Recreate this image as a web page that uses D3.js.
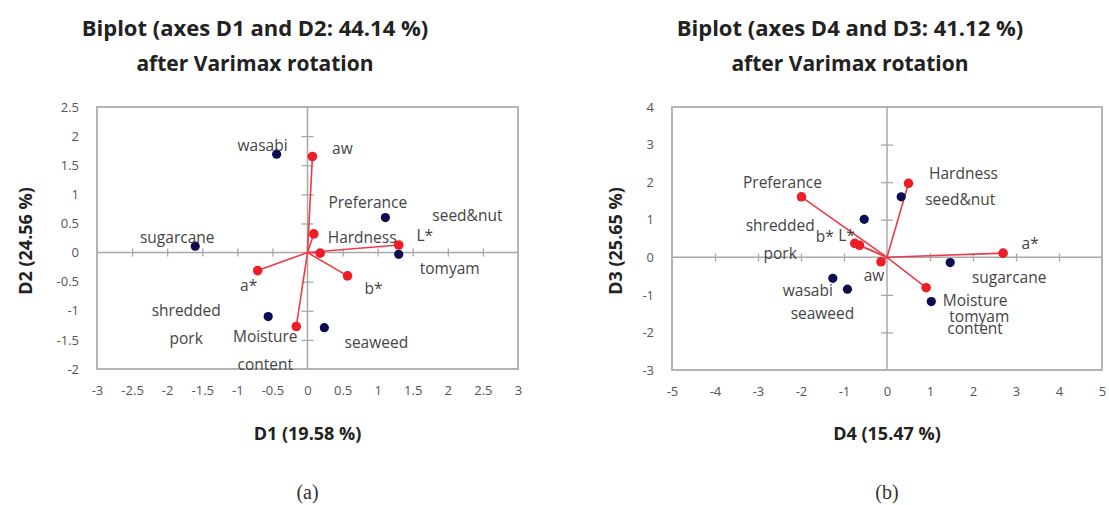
<!DOCTYPE html>
<html>
<head>
<meta charset="utf-8">
<script src="https://cdn.jsdelivr.net/npm/d3@7"></script>
<style>
  body { margin: 0; background: #fff; }
  svg { display: block; }
  text { font-family: "Open Sans", "DejaVu Sans", sans-serif; }
</style>
</head>
<body>
<script>
const obsNames = ['wasabi', 'sugarcane', 'seed&nut', 'tomyam', 'shredded pork', 'seaweed'];
const obsD1 = [-0.44, -1.60, 1.11, 1.30, -0.56, 0.24];
const obsD2 = [1.69, 0.11, 0.60, -0.03, -1.10, -1.29];
const obsD4 = [-1.26, 1.47, 0.33, 1.03, -0.53, -0.92];
const obsD3 = [-0.56, -0.14, 1.61, -1.18, 1.01, -0.85];

const varNames = ['aw', 'Preferance', 'Hardness', 'L*', 'b*', 'a*', 'Moisture content'];
const varD1 = [0.07, 0.09, 0.18, 1.30, 0.57, -0.71, -0.16];
const varD2 = [1.65, 0.32, -0.01, 0.13, -0.40, -0.31, -1.27];
const varD4 = [-0.14, -1.99, 0.50, -0.64, -0.75, 2.70, 0.91];
const varD3 = [-0.12, 1.61, 1.97, 0.32, 0.37, 0.11, -0.81];

const xTicksA = [-3, -2.5, -2, -1.5, -1, -0.5, 0, 0.5, 1, 1.5, 2, 2.5, 3];
const yTicksA = [-2, -1.5, -1, -0.5, 0, 0.5, 1, 1.5, 2, 2.5];
const xTicksB = [-5, -4, -3, -2, -1, 0, 1, 2, 3, 4, 5];
const yTicksB = [-3, -2, -1, 0, 1, 2, 3, 4];

// label placement, pixel offsets from the marker (layout only)
const labelPosA = {
    'wasabi': [-14, -9], 'sugarcane': [-18, -9], 'seed&nut': [82, -3], 'tomyam': [51, 14],
    'shredded pork': [-82, -7], 'seaweed': [52, 14],
    'aw': [30, -8], 'Preferance': [54, -32], 'Hardness': [42, -16], 'L*': [26, -10],
    'b*': [26, 12], 'a*': [-9, 14], 'Moisture content': [-31, 10]
};
const labelPosB = {
    'wasabi': [-25, 12], 'sugarcane': [59, 14], 'seed&nut': [59, 2], 'tomyam': [48, 14],
    'shredded pork': [-84, 6], 'seaweed': [-25, 24],
    'aw': [-7, 13], 'Preferance': [-19, -15], 'Hardness': [55, -10], 'L*': [-13, -10],
    'b*': [-30, -7], 'a*': [27, -10], 'Moisture content': [49, 12]
};

const W = 1109, H = 505;
const svg = d3.select('body').append('svg').attr('width', W).attr('height', H);

function drawBiplot(o) {
    const x = d3.scaleLinear().domain(o.xDomain).range([o.left, o.right]);
    const y = d3.scaleLinear().domain(o.yDomain).range([o.bottom, o.top]);
    const g = svg.append('g');

    // titles
    g.append('text').attr('x', o.titleX).attr('y', 27)
        .attr('text-anchor', 'middle').attr('dominant-baseline', 'central')
        .style('font-size', '22px').style('font-weight', 700).attr('fill', '#222')
        .text(o.title);
    g.append('text').attr('x', o.titleX).attr('y', 63)
        .attr('text-anchor', 'middle').attr('dominant-baseline', 'central')
        .style('font-size', '21px').style('font-weight', 700).attr('fill', '#222')
        .text('after Varimax rotation');

    // frame
    g.append('rect')
        .attr('x', o.left).attr('y', o.top)
        .attr('width', o.right - o.left).attr('height', o.bottom - o.top)
        .attr('fill', 'none').attr('stroke', '#b4b4b4').attr('stroke-width', 2);

    // zero axes through the middle
    g.append('line').attr('x1', o.left).attr('x2', o.right)
        .attr('y1', y(0)).attr('y2', y(0)).attr('stroke', '#a8a8a8').attr('stroke-width', 1.5);
    g.append('line').attr('x1', x(0)).attr('x2', x(0))
        .attr('y1', o.top).attr('y2', o.bottom).attr('stroke', '#a8a8a8').attr('stroke-width', 1.5);

    // small cross ticks on the zero axes
    const inner = (arr) => arr.filter((v, i) => v !== 0 && i > 0 && i < arr.length - 1);
    const xt = g.append('g')
        .attr('transform', `translate(0, ${y(0) - 4})`)
        .call(d3.axisBottom(x).tickValues(inner(o.xTicks)).tickSize(8).tickFormat(''));
    const yt = g.append('g')
        .attr('transform', `translate(${x(0) + 6}, 0)`)
        .call(d3.axisLeft(y).tickValues(inner(o.yTicks)).tickSize(12).tickFormat(''));
    [xt, yt].forEach(a => {
        a.select('.domain').remove();
        a.selectAll('line').attr('stroke', '#a8a8a8').attr('stroke-width', 1.3);
    });

    // outside tick labels
    const xl = g.append('g')
        .attr('transform', `translate(0, ${o.bottom})`)
        .call(d3.axisBottom(x).tickValues(o.xTicks).tickSize(0).tickPadding(17).tickFormat(d => String(d)));
    const yl = g.append('g')
        .attr('transform', `translate(${o.left}, 0)`)
        .call(d3.axisLeft(y).tickValues(o.yTicks).tickSize(0).tickPadding(18).tickFormat(d => String(d)));
    [xl, yl].forEach(a => {
        a.select('.domain').remove();
        a.selectAll('text').attr('fill', '#555')
            .style('font-size', '13px').style('font-family', '"Open Sans", sans-serif');
    });

    // axis titles
    g.append('text').attr('x', x(0)).attr('y', 433)
        .attr('text-anchor', 'middle').attr('dominant-baseline', 'central')
        .style('font-size', '18px').style('font-weight', 700).attr('fill', '#222')
        .text(o.xTitle);
    g.append('text')
        .attr('transform', `translate(${o.yTitleX}, 241) rotate(-90)`)
        .attr('text-anchor', 'middle').attr('dominant-baseline', 'central')
        .style('font-size', '18px').style('font-weight', 700).attr('fill', '#222')
        .text(o.yTitle);

    // variable vectors
    g.selectAll('.vec').data(varNames).enter().append('line')
        .attr('x1', x(0)).attr('y1', y(0))
        .attr('x2', (d, i) => x(o.varX[i])).attr('y2', (d, i) => y(o.varY[i]))
        .attr('stroke', '#ec3b48').attr('stroke-width', 1.6);

    g.selectAll('.vpt').data(varNames).enter().append('circle')
        .attr('cx', (d, i) => x(o.varX[i])).attr('cy', (d, i) => y(o.varY[i]))
        .attr('r', 4.8).attr('fill', '#ee1c25');

    g.selectAll('.opt').data(obsNames).enter().append('circle')
        .attr('cx', (d, i) => x(o.obsX[i])).attr('cy', (d, i) => y(o.obsY[i]))
        .attr('r', 4.6).attr('fill', '#0c0c52');

    // labels
    const labels = obsNames.map((n, i) => ({ n, px: x(o.obsX[i]), py: y(o.obsY[i]) }))
        .concat(varNames.map((n, i) => ({ n, px: x(o.varX[i]), py: y(o.varY[i]) })));
    labels.forEach(l => {
        const off = o.labelPos[l.n];
        const lines = l.n === 'shredded pork' ? ['shredded', 'pork']
            : l.n === 'Moisture content' ? ['Moisture', 'content'] : [l.n];
        lines.forEach((t, k) => {
            g.append('text')
                .attr('x', l.px + off[0]).attr('y', l.py + off[1] + k * 28)
                .attr('text-anchor', 'middle').attr('dominant-baseline', 'central')
                .style('font-size', '15.5px').attr('fill', '#444')
                .text(t);
        });
    });

    // panel caption
    g.append('text').attr('x', x(0)).attr('y', 492)
        .attr('text-anchor', 'middle').attr('dominant-baseline', 'central')
        .style('font-size', '20px').style('font-family', '"Liberation Serif", serif').attr('fill', '#333')
        .text(o.caption);
}

drawBiplot({
    xDomain: [-3, 3], yDomain: [-2, 2.5], left: 97, right: 518, top: 107, bottom: 369,
    xTicks: xTicksA, yTicks: yTicksA,
    obsX: obsD1, obsY: obsD2, varX: varD1, varY: varD2, labelPos: labelPosA,
    title: 'Biplot (axes D1 and D2: 44.14 %)', titleX: 255,
    xTitle: 'D1 (19.58 %)', yTitle: 'D2 (24.56 %)', yTitleX: 25, caption: '(a)'
});

drawBiplot({
    xDomain: [-5, 5], yDomain: [-3, 4], left: 672, right: 1102, top: 107, bottom: 370,
    xTicks: xTicksB, yTicks: yTicksB,
    obsX: obsD4, obsY: obsD3, varX: varD4, varY: varD3, labelPos: labelPosB,
    title: 'Biplot (axes D4 and D3: 41.12 %)', titleX: 850,
    xTitle: 'D4 (15.47 %)', yTitle: 'D3 (25.65 %)', yTitleX: 615, caption: '(b)'
});
</script>
</body>
</html>
